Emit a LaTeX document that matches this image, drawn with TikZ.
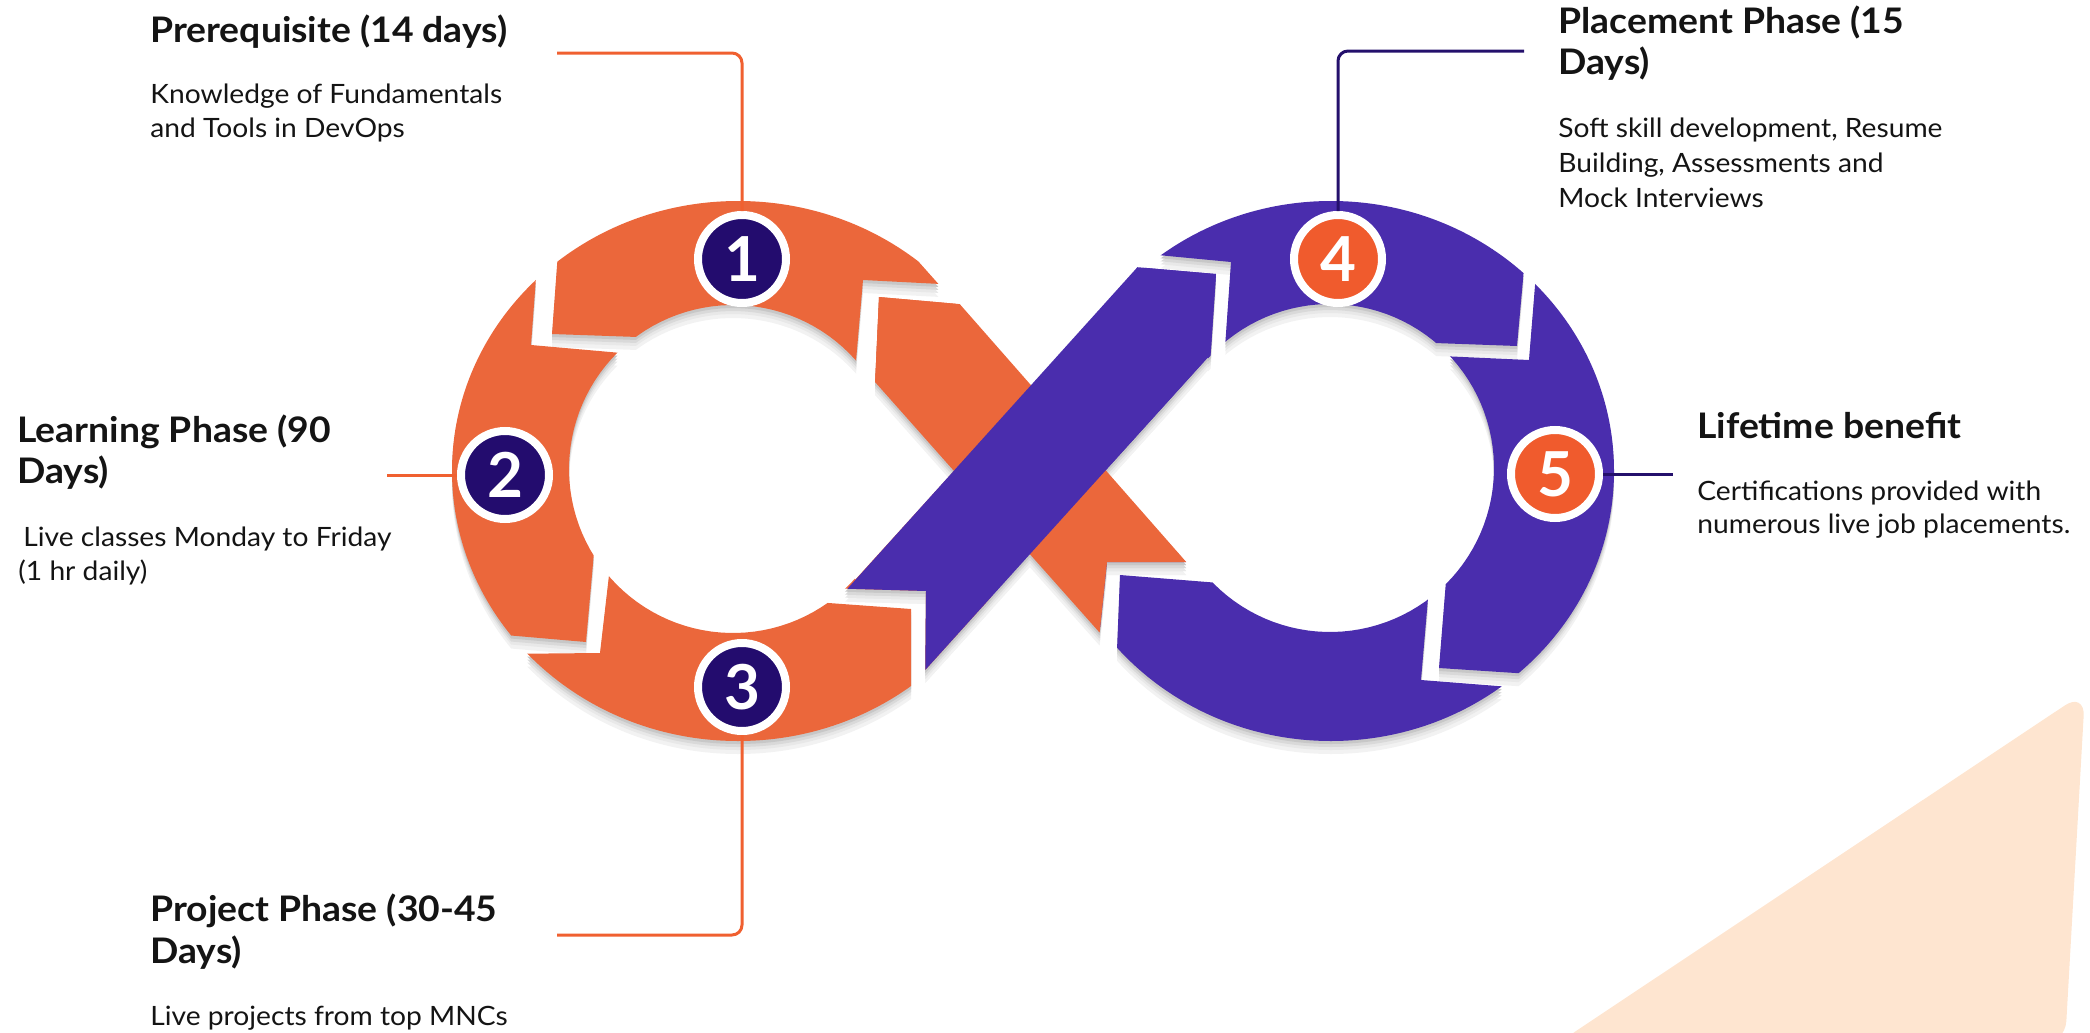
\documentclass[tikz,border=0pt]{standalone}
\usepackage{fontspec}
\setmainfont{Lato}[FakeStretch=1.06]
\newfontfamily\digitfont{Lato}
\definecolor{bandor}{RGB}{235,103,59}
\definecolor{bandpu}{RGB}{74,45,173}
\definecolor{navy}{RGB}{35,12,110}
\definecolor{circor}{RGB}{240,91,45}
\definecolor{lineor}{RGB}{240,96,48}
\definecolor{linenv}{RGB}{36,16,108}
\definecolor{beige}{RGB}{254,229,208}
\definecolor{ink}{RGB}{20,20,20}
\begin{document}
\begin{tikzpicture}[x=0.5pt,y=-0.5pt,
  numnode/.style={circle, draw=white, line width=4pt, minimum size=44pt, inner sep=0pt, text=white, font=\digitfont\fontsize{31}{31}\selectfont\bfseries},
  navynum/.style={numnode, fill=navy},
  ornum/.style={numnode, fill=circor},
  conn/.style={line width=1.5pt, rounded corners=5pt},
  headtxt/.style={anchor=base west, inner sep=0pt, text=ink, font=\fontsize{17.6}{20}\selectfont\bfseries},
  bodytxt/.style={anchor=base west, inner sep=0pt, text=ink, font=\fontsize{13.3}{15}\selectfont}]
\useasboundingbox (0,0) rectangle (2090,1033);
\def\leftring{(738,471) ellipse [x radius=286, y radius=270] (954,471) -- (855.5,360) -- plot[domain=41.7:318, samples=90] ({733+164*cos(\x)},{469-164*sin(\x)}) -- (855.4,579.5) -- cycle}
\def\leftclip{(1105,471) -- (706,23) -- (0,23) -- (0,916) -- (703,916) -- cycle}
\def\rightring{(1331,471) ellipse [x radius=283, y radius=270] (1105,471) -- (1202.7,581.3) -- plot[domain=-138.3:138, samples=90] ({1330+164*cos(\x)},{468-164*sin(\x)}) -- (1207.7,357.6) -- cycle}
\def\dband{(950,293) -- (871,289) -- (866,370) -- (1108,642) -- (1114,568) -- (1195,572) -- cycle}
\def\hband{(1143,261) -- (1224,268) -- (1218,346) -- (918,678) -- (918,600) -- (840,597) -- cycle}
\def\gaps{(560,225) -- (552,334) -- (666,338) -- (644,355) -- (531,345) -- (539,237) -- cycle
(981,306) -- (879,297) -- (874,406) -- (854,384) -- (863,280) -- (960,285) -- cycle
(1232,584) -- (1120,575) -- (1116,675) -- (1097,658) -- (1107,562) -- (1211,562) -- cycle
(1448,556) -- (1439,668) -- (1546,675) -- (1523,688) -- (1421,680) -- (1430,575) -- cycle
(1526,246) -- (1517,346) -- (1407,342) -- (1419,355) -- (1529,360) -- (1537,261) -- cycle
(1112,265) -- (1216,274) -- (1209,379) -- (1224,362) -- (1231,262) -- (1126,252) -- cycle
(801,601) -- (911,609) -- (911,708) -- (925,698) -- (926,591) -- (822,588) -- cycle
(595,541) -- (586,642) -- (482,633) -- (496,654) -- (600,653) -- (611,558) -- cycle}
% background triangle
\fill[beige, rounded corners=12pt] (1555,1045) -- (2085,692) -- (2065,1045) -- cycle;
% soft shadow layers
\foreach \dy/\shc in {13/black!5, 9/black!9, 6/black!15, 3/black!22}{
  \begin{scope}[shift={(0,\dy)}, even odd rule]
    \clip (-50,-50) rectangle (2150,1100) \gaps;
    \begin{scope}\clip \leftclip; \fill[\shc] \leftring; \end{scope}
    \fill[\shc] \rightring;
    \fill[\shc] \dband;
    \fill[\shc] \hband;
  \end{scope}
}
% coloured infinity
\begin{scope}[even odd rule]
  \clip (-50,-50) rectangle (2150,1100) \gaps;
  \begin{scope}\clip \leftclip; \fill[bandor] \leftring; \end{scope}
  \fill[bandpu] \rightring;
  \fill[bandor] \dband;
  \fill[bandpu] \hband;
\end{scope}
% number badges
\node[navynum] (n1) at (742,259) {1};
\node[navynum] (n2) at (505,475) {2};
\node[navynum] (n3) at (742,687) {3};
\node[ornum] (n4) at (1338,259) {4};
\node[ornum] (n5) at (1555,474) {5};
% connector ends
\coordinate (c1end) at (557,53);
\coordinate (c2end) at (387,475);
\coordinate (c3end) at (557,935);
\coordinate (c4end) at (1524,51);
\coordinate (c5end) at (1673,474);
\draw[conn, lineor] (n1.north) |- (c1end);
\draw[conn, lineor] (n2.west) -- (c2end);
\draw[conn, lineor] (n3.south) |- (c3end);
\draw[conn, linenv] (n4.north) |- (c4end);
\draw[conn, linenv] (n5.east) -- (c5end);
% texts
\node[headtxt] (t1a) at (150,42) {Prerequisite (14 days)};
\node[bodytxt] (t1b) at (150,103) {Knowledge of Fundamentals};
\node[bodytxt] (t1c) at (150,137) {and Tools in DevOps};
\node[headtxt] (t2a) at (17,442) {Learning Phase (90};
\node[headtxt] (t2b) at (17,483) {Days)};
\node[bodytxt] (t2c) at (23,546) {Live classes Monday to Friday};
\node[bodytxt] (t2d) at (18,580) {(1 hr daily)};
\node[headtxt] (t3a) at (150,921) {Project Phase (30-45};
\node[headtxt] (t3b) at (150,963) {Days)};
\node[bodytxt] (t3c) at (150,1025) {Live projects from top MNCs};
\node[headtxt] (t4a) at (1558,33) {Placement Phase (15};
\node[headtxt] (t4b) at (1558,75) {Days)};
\node[bodytxt] (t4c) at (1558,137) {Soft skill development, Resume};
\node[bodytxt] (t4d) at (1558,172) {Building, Assessments and};
\node[bodytxt] (t4e) at (1558,207) {Mock Interviews};
\node[headtxt] (t5a) at (1697,438) {Lifetime benefit};
\node[bodytxt] (t5b) at (1697,500) {Certifications provided with};
\node[bodytxt] (t5c) at (1697,533) {numerous live job placements.};
\end{tikzpicture}
\end{document}
